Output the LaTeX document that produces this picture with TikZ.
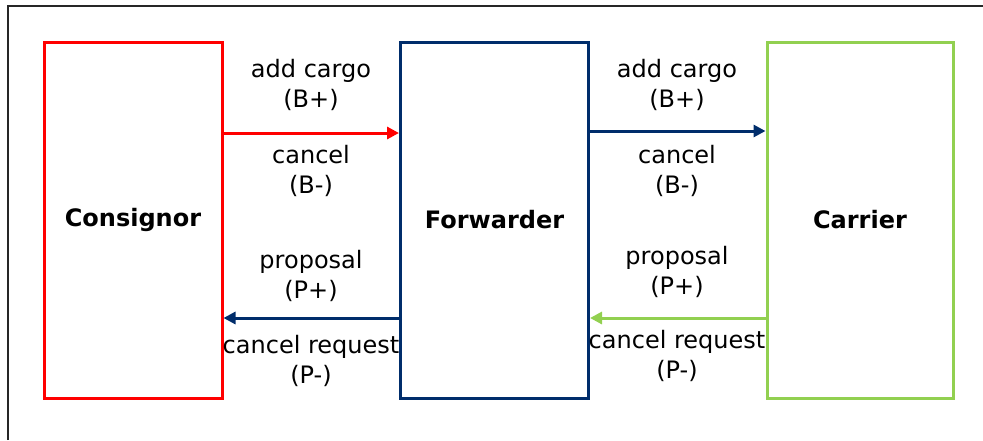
\documentclass[tikz,border=0pt]{standalone}
\usepackage{fontspec}
\setmainfont{DejaVu Sans}
\usetikzlibrary{arrows.meta}

\definecolor{consred}{RGB}{255,0,0}
\definecolor{fwdnavy}{RGB}{0,45,107}
\definecolor{carrgreen}{RGB}{146,208,80}

\tikzset{
  party/.style={draw, line width=3pt, minimum height=356pt, inner sep=0pt,
    font=\fontsize{24}{30}\selectfont\bfseries},
  msg/.style={line width=3pt, -{Triangle[length=12pt,width=12pt]}},
  msglabel/.style={align=center, inner sep=0pt,
    font=\fontsize{24}{30}\selectfont},
  frameline/.style={line width=1.2pt, draw=black!85}
}

\begin{document}
\begin{tikzpicture}[x=1pt, y=-1pt]
  \useasboundingbox (0,0) rectangle (983,440);

  % page frame (top and left edges)
  \draw[frameline] (8,440) -- (8,6) -- (983,6);

  % the three parties
  \node[party, draw=consred,    minimum width=178pt] (cons) at (133,220)   {Consignor};
  \node[party, draw=fwdnavy,    minimum width=188pt] (fwd)  at (494.5,220) {Forwarder};
  \node[party, draw=carrgreen,  minimum width=186pt] (carr) at (860,220)   {Carrier};

  % booking messages
  \draw[msg, consred]   ([yshift=87pt]cons.east) -- ([yshift=87pt]fwd.west);
  \draw[msg, fwdnavy]   ([yshift=89pt]fwd.east)  -- ([yshift=89pt]carr.west);

  % proposal messages
  \draw[msg, fwdnavy]   ([xshift=3pt,yshift=-98pt]fwd.west) -- ([yshift=-98pt]cons.east);
  \draw[msg, carrgreen] ([yshift=-98pt]carr.west) -- ([yshift=-98pt]fwd.east);

  % labels between consignor and forwarder
  \node[msglabel] (l1) at (311,86)  {\strut add cargo\\\strut (B+)};
  \node[msglabel] (l2) at (311,172) {\strut cancel\\\strut (B-)};
  \node[msglabel] (l3) at (311,277) {\strut proposal\\\strut (P+)};
  \node[msglabel] (l4) at (311,362) {\strut cancel request\\\strut (P-)};

  % labels between forwarder and carrier
  \node[msglabel] (r1) at (677,86)  {\strut add cargo\\\strut (B+)};
  \node[msglabel] (r2) at (677,172) {\strut cancel\\\strut (B-)};
  \node[msglabel] (r3) at (677,273) {\strut proposal\\\strut (P+)};
  \node[msglabel] (r4) at (677,357) {\strut cancel request\\\strut (P-)};
\end{tikzpicture}
\end{document}
